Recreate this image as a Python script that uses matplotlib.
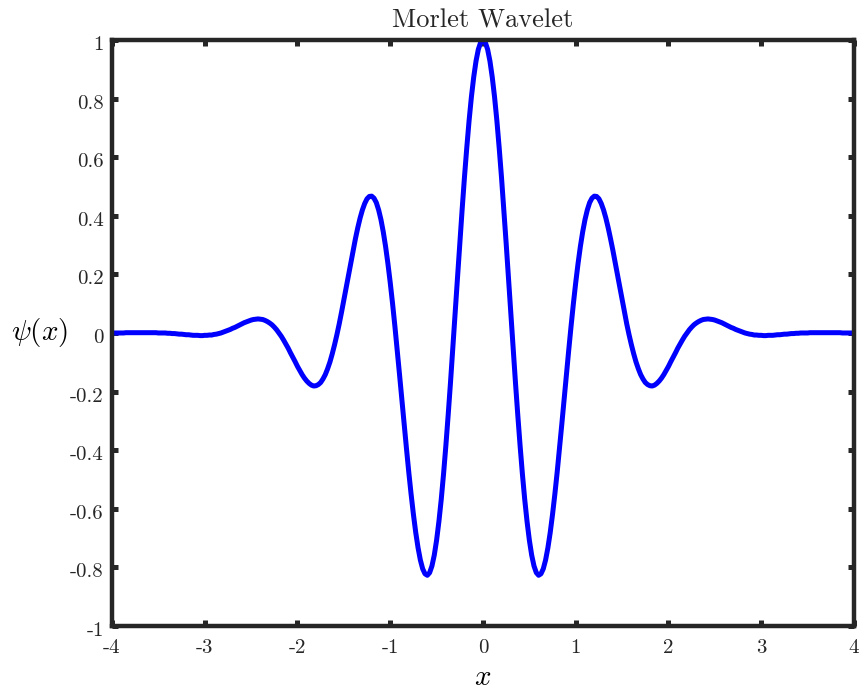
import numpy as np
import matplotlib
matplotlib.use("Agg")
import matplotlib.pyplot as plt
from matplotlib.transforms import ScaledTranslation

# sampled wavelet values, x from -4 to 4 in steps of 0.025
psi = [
    0.000, 0.000, 0.000, 0.000, 0.000, 0.000, 0.001, 0.001, 0.001, 0.001,
    0.001, 0.001, 0.001, 0.001, 0.001, 0.001, 0.001, 0.001, 0.001, 0.001,
    0.000, 0.000, 0.000, 0.000, -0.001, -0.001, -0.002, -0.002, -0.003, -0.004,
    -0.004, -0.005, -0.006, -0.006, -0.007, -0.008, -0.008, -0.008, -0.009, -0.009,
    -0.008, -0.008, -0.007, -0.007, -0.005, -0.004, -0.002, 0.000, 0.003, 0.006,
    0.009, 0.012, 0.016, 0.019, 0.023, 0.027, 0.031, 0.035, 0.038, 0.041,
    0.044, 0.046, 0.047, 0.048, 0.047, 0.046, 0.043, 0.039, 0.034, 0.028,
    0.020, 0.011, 0.000, -0.011, -0.024, -0.038, -0.052, -0.068, -0.083, -0.098,
    -0.114, -0.128, -0.142, -0.154, -0.164, -0.172, -0.178, -0.181, -0.180, -0.176,
    -0.169, -0.157, -0.142, -0.122, -0.099, -0.071, -0.040, -0.006, 0.031, 0.071,
    0.113, 0.155, 0.198, 0.241, 0.283, 0.322, 0.359, 0.392, 0.420, 0.442,
    0.458, 0.466, 0.467, 0.460, 0.445, 0.420, 0.387, 0.345, 0.295, 0.237,
    0.172, 0.101, 0.024, -0.057, -0.141, -0.226, -0.311, -0.394, -0.475, -0.550,
    -0.619, -0.681, -0.733, -0.775, -0.805, -0.822, -0.827, -0.818, -0.795, -0.758,
    -0.707, -0.643, -0.568, -0.481, -0.384, -0.279, -0.168, -0.051, 0.068, 0.187,
    0.306, 0.420, 0.530, 0.631, 0.724, 0.805, 0.873, 0.928, 0.968, 0.992,
    1.000, 0.992, 0.968, 0.928, 0.873, 0.805, 0.724, 0.631, 0.530, 0.420,
    0.306, 0.187, 0.068, -0.051, -0.168, -0.279, -0.384, -0.481, -0.568, -0.643,
    -0.707, -0.758, -0.795, -0.818, -0.827, -0.822, -0.805, -0.775, -0.733, -0.681,
    -0.619, -0.550, -0.475, -0.394, -0.311, -0.226, -0.141, -0.057, 0.024, 0.101,
    0.172, 0.237, 0.295, 0.345, 0.387, 0.420, 0.445, 0.460, 0.467, 0.466,
    0.458, 0.442, 0.420, 0.392, 0.359, 0.322, 0.283, 0.241, 0.198, 0.155,
    0.113, 0.071, 0.031, -0.006, -0.040, -0.071, -0.099, -0.122, -0.142, -0.157,
    -0.169, -0.176, -0.180, -0.181, -0.178, -0.172, -0.164, -0.154, -0.142, -0.128,
    -0.114, -0.098, -0.083, -0.068, -0.052, -0.038, -0.024, -0.011, 0.000, 0.011,
    0.020, 0.028, 0.034, 0.039, 0.043, 0.046, 0.047, 0.048, 0.047, 0.046,
    0.044, 0.041, 0.038, 0.035, 0.031, 0.027, 0.023, 0.019, 0.016, 0.012,
    0.009, 0.006, 0.003, 0.000, -0.002, -0.004, -0.005, -0.007, -0.007, -0.008,
    -0.008, -0.009, -0.009, -0.008, -0.008, -0.008, -0.007, -0.006, -0.006, -0.005,
    -0.004, -0.004, -0.003, -0.002, -0.002, -0.001, -0.001, 0.000, 0.000, 0.000,
    0.000, 0.001, 0.001, 0.001, 0.001, 0.001, 0.001, 0.001, 0.001, 0.001,
    0.001, 0.001, 0.001, 0.001, 0.001, 0.000, 0.000, 0.000, 0.000, 0.000,
    0.000,
]
x = np.linspace(-4, 4, len(psi))

xticks = [-4, -3, -2, -1, 0, 1, 2, 3, 4]
xlabels = ["-4", "-3", "-2", "-1", "0", "1", "2", "3", "4"]
yticks = [-1, -0.8, -0.6, -0.4, -0.2, 0, 0.2, 0.4, 0.6, 0.8, 1]
ylabels = ["-1", "-0.8", "-0.6", "-0.4", "-0.2", "0", "0.2", "0.4", "0.6", "0.8", "1"]

plt.rcParams["mathtext.fontset"] = "cm"

fig = plt.figure(figsize=(8.64, 6.94), dpi=100)
ax = fig.add_axes([0.1296, 0.098, 0.8588, 0.8444])

ax.plot(x, psi, color="#0000ff", linewidth=3.6,
        solid_capstyle="butt", solid_joinstyle="round")

ax.set_xlim(-4, 4)
ax.set_ylim(-1, 1)
ax.set_xticks(xticks)
ax.set_xticklabels(xlabels, family="cmr10", fontsize=15)
ax.set_yticks(yticks)
ax.set_yticklabels(ylabels, family="cmr10", fontsize=15)

edge = "#262626"
for s in ax.spines.values():
    s.set_linewidth(3.2)
    s.set_color(edge)
ax.tick_params(direction="in", length=4.3, width=3.6, color=edge,
               top=True, right=True, labelcolor=edge)
ax.tick_params(axis="x", pad=9.5)
ax.tick_params(axis="y", pad=6)

# y labels sit a few pixels below their ticks
shift = ScaledTranslation(0, -3 / 100, fig.dpi_scale_trans)
for lbl in ax.get_yticklabels():
    lbl.set_transform(lbl.get_transform() + shift)

ax.set_title("Morlet Wavelet", family="cmr10", fontsize=19, pad=9, color=edge)
ax.set_xlabel(r"$x$", fontsize=21, labelpad=4)
ax.set_ylabel(r"$\psi(x)$", fontsize=21, rotation=0, labelpad=22, va="center")

fig.savefig("out.png", dpi=100)
